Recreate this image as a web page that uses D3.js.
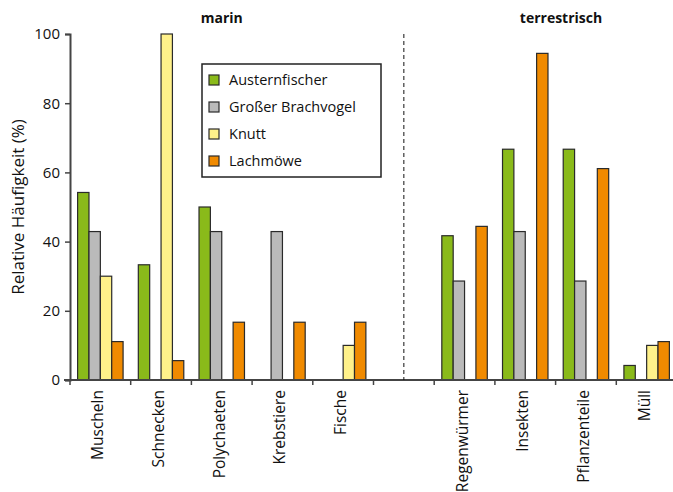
<!DOCTYPE html>
<html>
<head>
<meta charset="utf-8">
<script src="https://cdn.jsdelivr.net/npm/d3@7"></script>
<style>
  body { margin: 0; background: #fff; }
  text { font-family: "Open Sans", "Noto Sans", sans-serif; fill: #111; }
</style>
</head>
<body>
<div id="chart"></div>
<script>
// categories ("" is the empty gap slot between marin and terrestrisch)
const categories = ["Muscheln", "Schnecken", "Polychaeten", "Krebstiere", "Fische", "",
                    "Regenwürmer", "Insekten", "Pflanzenteile", "Müll"];
const species = ["Austernfischer", "Großer Brachvogel", "Knutt", "Lachmöwe"];
const colors = ["#8aba1a", "#bababa", "#fff18a", "#f08a00"];

// relative Häufigkeit (%) per species, one value per category
const austernfischer = [54.2, 33.3, 50, 0, 0, null, 41.7, 66.7, 66.7, 4.2];
const brachvogel     = [42.9, 0, 42.9, 42.9, 0, null, 28.6, 42.9, 28.6, 0];
const knutt          = [30, 100, 0, 0, 10, null, 0, 0, 0, 10];
const lachmoewe      = [11.1, 5.6, 16.7, 16.7, 16.7, null, 44.4, 94.4, 61.1, 11.1];
const yTicks = [0, 20, 40, 60, 80, 100];

const seriesValues = [austernfischer, brachvogel, knutt, lachmoewe];

const width = 673, height = 492;
const margin = { top: 34, left: 70, bottom: 112 }; // axis at y=380
const plotH = height - margin.top - margin.bottom;

const svg = d3.select("#chart").append("svg")
  .attr("width", width).attr("height", height);

// bands of ~60.7px, last one runs past the right edge a little
const x = d3.scaleBand()
  .domain(d3.range(categories.length))
  .range([margin.left, margin.left + 60.7 * categories.length])
  .paddingInner(0).paddingOuter(0);

const xs = d3.scaleBand()
  .domain(species)
  .range([0, x.bandwidth()])
  .paddingOuter(0.67).paddingInner(0);

const y = d3.scaleLinear().domain([0, 100]).range([margin.top + plotH, margin.top]);

// bars
const rows = [];
categories.forEach((c, i) => {
  species.forEach((s, j) => {
    const v = seriesValues[j][i];
    if (v) rows.push({ i, s, j, v });
  });
});
svg.append("g").selectAll("rect")
  .data(rows)
  .join("rect")
    .attr("x", d => x(d.i) + xs(d.s))
    .attr("y", d => y(d.v))
    .attr("width", xs.bandwidth())
    .attr("height", d => y(0) - y(d.v))
    .attr("fill", d => colors[d.j])
    .attr("stroke", "#2a2a2a")
    .attr("stroke-width", 1.2);

// y axis
const yAxis = svg.append("g")
  .attr("transform", `translate(${margin.left},0)`)
  .call(d3.axisLeft(y).tickValues(yTicks).tickSize(5).tickPadding(5));
yAxis.select(".domain").attr("stroke", "#444").attr("stroke-width", 2);
yAxis.selectAll(".tick line").attr("stroke", "#444").attr("stroke-width", 1.5);
yAxis.selectAll(".tick text").style("font-size", "15px").attr("fill", "#111")
  .style("font-family", "'Open Sans', sans-serif");

// x axis: ticks at band boundaries
const xAxisG = svg.append("g").attr("transform", `translate(0,${y(0)})`);
xAxisG.append("line")
  .attr("x1", margin.left - 6).attr("x2", width)
  .attr("stroke", "#444").attr("stroke-width", 2);
xAxisG.selectAll(".xt")
  .data(d3.range(categories.length))
  .join("line")
    .attr("x1", d => x(d)).attr("x2", d => x(d))
    .attr("y1", 0).attr("y2", 5)
    .attr("stroke", "#444").attr("stroke-width", 1.5);

// category labels, rotated
svg.append("g").selectAll("text")
  .data(categories.map((c, i) => ({ c, i })).filter(d => d.c))
  .join("text")
    .attr("transform", d => `translate(${x(d.i) + x.bandwidth() / 2 + 3},390) rotate(-90)`)
    .attr("text-anchor", "end")
    .style("font-size", "15.5px")
    .text(d => d.c);

// dashed separator through the empty slot
svg.append("line")
  .attr("x1", x(5) + x.bandwidth() / 2).attr("x2", x(5) + x.bandwidth() / 2)
  .attr("y1", y(100)).attr("y2", y(0))
  .attr("stroke", "#111").attr("stroke-width", 1)
  .attr("stroke-dasharray", "4,3");

// group titles
svg.append("text")
  .attr("x", (x(0) + x(5)) / 2).attr("y", 23)
  .attr("text-anchor", "middle")
  .style("font-size", "14px").style("font-weight", "bold")
  .text("marin");
svg.append("text")
  .attr("x", 561).attr("y", 23)
  .attr("text-anchor", "middle")
  .style("font-size", "14px").style("font-weight", "bold")
  .text("terrestrisch");

// y label
svg.append("text")
  .attr("transform", `translate(24,${(y(0) + y(100)) / 2}) rotate(-90)`)
  .attr("text-anchor", "middle")
  .style("font-size", "17px")
  .text("Relative Häufigkeit (%)");

// legend
const legend = svg.append("g").attr("transform", "translate(202,64)");
legend.append("rect")
  .attr("width", 179).attr("height", 113)
  .attr("fill", "#fff").attr("stroke", "#222").attr("stroke-width", 1.5);
const items = legend.selectAll(".item")
  .data(species)
  .join("g")
    .attr("transform", (d, i) => `translate(0,${16 + i * 27})`);
items.append("rect")
  .attr("x", 7).attr("y", -5)
  .attr("width", 10).attr("height", 10)
  .attr("fill", (d, i) => colors[i])
  .attr("stroke", "#2a2a2a").attr("stroke-width", 1.2);
items.append("text")
  .attr("x", 27).attr("y", 5)
  .style("font-size", "14.5px")
  .text(d => d);
</script>
</body>
</html>
